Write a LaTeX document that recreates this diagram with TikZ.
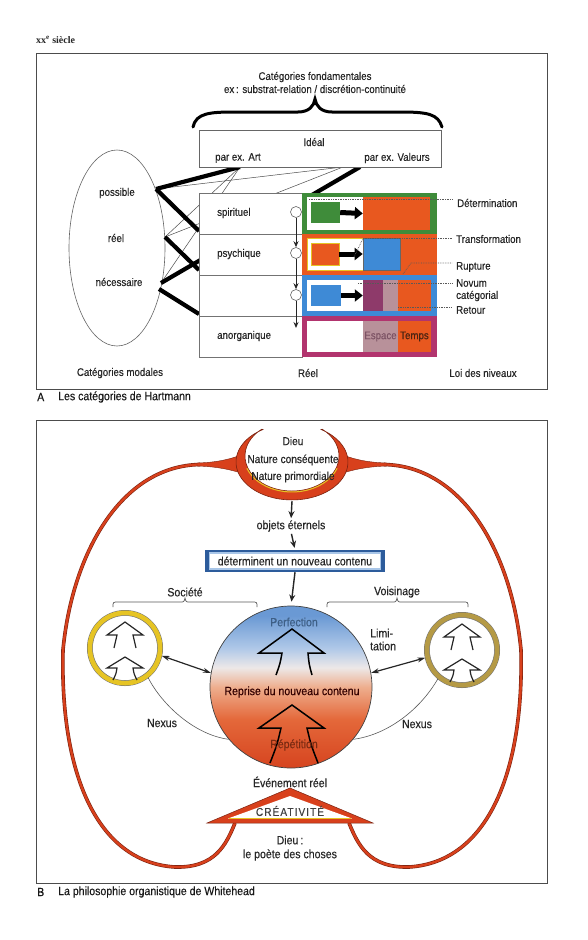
\documentclass[tikz,border=0pt]{standalone}
\usepackage{fontspec}
\setmainfont[FakeStretch=0.88,FakeBold=0.3]{Liberation Sans}
\newfontfamily\titlefont{Liberation Serif}
\newfontfamily\spacedfont[FakeStretch=0.88,FakeBold=0.3,LetterSpace=9]{Liberation Sans}
\usetikzlibrary{arrows.meta,shapes.geometric,calc}
\definecolor{cgreen}{HTML}{3F8C3A}
\definecolor{corange}{HTML}{E8581F}
\definecolor{cblue}{HTML}{3E8AD6}
\definecolor{cmag}{HTML}{B2346E}
\definecolor{cpurp}{HTML}{8E3A6A}
\definecolor{cmauve}{HTML}{B8919A}
\definecolor{cred}{HTML}{D8401C}
\definecolor{cdark}{HTML}{7A2210}
\definecolor{cyel}{HTML}{E6C424}
\definecolor{colive}{HTML}{B59A45}
\definecolor{dblue}{HTML}{2D5C9C}
\definecolor{skyb}{HTML}{A9C6E8}
\definecolor{sBot}{HTML}{D6441F}
\definecolor{sOr}{HTML}{E4683A}
\definecolor{sPeach}{HTML}{EEAE8E}
\definecolor{sWhite}{HTML}{EDE8E8}
\definecolor{sLb}{HTML}{AFC8E8}
\definecolor{sBl}{HTML}{6A99D4}
\definecolor{espcol}{HTML}{7D5365}
\definecolor{tempcol}{HTML}{4A2412}
\definecolor{perfcol}{HTML}{3E5F86}
\definecolor{repcol}{HTML}{7A2A12}
\pgfdeclareverticalshading{bigshade}{100bp}{color(0bp)=(sBot); color(25bp)=(sBot); color(40bp)=(sOr); color(50bp)=(sPeach); color(56bp)=(sWhite); color(62bp)=(sLb); color(72bp)=(sBl); color(100bp)=(sBl)}
\begin{document}
\begin{tikzpicture}[x=1pt,y=-1pt,
  lblA/.style={font=\fontsize{11}{13}\selectfont, text=black!85, inner sep=0pt},
  lblB/.style={font=\fontsize{12}{14}\selectfont, text=black!85, inner sep=0pt},
  capt/.style={font=\fontsize{12}{14}\selectfont, text=black!90, inner sep=0pt, anchor=west},
  frame/.style={draw=black!70, line width=0.9},
  thinln/.style={draw=black!70, line width=0.5},
  thickln/.style={draw=black, line width=4.2},
  rowbox/.style={draw=black!55, line width=0.6, fill=white, minimum width=103, minimum height=41, inner sep=0pt},
  cb/.style 2 args={minimum width=#1, minimum height=#2, inner sep=0pt},
  dotln/.style={draw=black!65, densely dotted, line width=0.7},
  smallc/.style={circle, draw=black!60, fill=white, minimum size=11, inner sep=0pt, line width=0.6},
  varrow/.style={-{Stealth[length=6,width=5]}, line width=1, draw=black!85},
  fatarrow/.style={-{Triangle[length=8,width=12]}, line width=5, draw=black},
  loopst/.style={draw=cred, line width=2.4, preaction={draw=cdark, line width=3.6}},
  arr/.style={-{Stealth[length=7,width=6]}, line width=1.4, draw=black!85},
  bigarr/.style={draw=black, line width=1.5, line join=miter},
  smallarr/.style={draw=black!85, line width=1.2, line join=miter},
  dbl/.style={{Stealth[length=8,width=5]}-{Stealth[length=8,width=5]}, line width=1.2, draw=black!85},
  nexus/.style={draw=black!65, line width=0.6},
  brk/.style={draw=black!65, line width=0.7},
  ring/.style={circle, minimum size=70, inner sep=0pt, fill=white, line width=5, preaction={draw=black!55, line width=6}}
]
\useasboundingbox (0,0) rectangle (587,940);
\fill[white] (0,0) rectangle (587,940);

% ================= PANEL A =================
\node[anchor=west, font=\titlefont\bfseries\fontsize{10}{12}\selectfont, text=black!85, inner sep=0pt] (title) at (36,40) {xx\textsuperscript{e} siècle};
\draw[frame] (36,53) rectangle (547,389);

\node[lblA] (fund1) at (315,77) {Catégories fondamentales};
\node[lblA] (fund2) at (315,89) {ex\,: substrat-relation / discrétion-continuité};
\draw[line width=3, line cap=round] (193,127) .. controls (196,113) and (210,112) .. (235,112) -- (298,112) .. controls (309,112) and (314,106) .. (315,99) .. controls (316,106) and (321,112) .. (332,112) -- (400,112) .. controls (428,112) and (438,114) .. (442,127);

% ellipse of modal categories
\node[ellipse, draw=black!60, line width=0.6, minimum width=96, minimum height=196, inner sep=0pt] (modal) at (117,248) {};
\node[lblA] (poss) at (117,193) {possible};
\node[lblA] (reel) at (116,238) {réel};
\node[lblA] (nec) at (119,282) {nécessaire};

\coordinate (eP) at (156,189);
\coordinate (eR) at (165,237);
\coordinate (eN) at (161,283);
\coordinate (eN2) at (159,289);
\coordinate (iArt) at (240,167);
\coordinate (iVal) at (343,167);
\coordinate (iVal2) at (360,167);
\coordinate (tA) at (199,231);
\coordinate (tB) at (199,270);
\coordinate (tD) at (199,314);

\draw[thinln] (eP) -- (iVal);
\draw[thinln] (eR) -- (iArt);
\draw[thinln] (eN) -- (iArt);
\draw[thinln] (eR) -- (iVal);
\draw[thickln] (eP) -- (iArt);
\draw[thickln] (eP) -- (tA);
\draw[thickln] (eR) -- (tB);
\draw[thickln] (eN2) -- (tD);
\draw[thickln] (eN) -- (iVal2);

% Ideal box
\node[draw=black!60, line width=0.6, fill=white, minimum width=242, minimum height=37, inner sep=0pt] (ideal) at (320,148.5) {};
\node[lblA] (idl) at (314,142) {Idéal};
\node[lblA] (art) at (238,158) {par ex. Art};
\node[lblA] (val) at (397,158) {par ex. Valeurs};

% Real rows
\node[rowbox] (spi) at (250.5,213.5) {};
\node[rowbox] (psy) at (250.5,254.5) {};
\node[rowbox] (ino) at (250.5,295.5) {};
\node[rowbox] (ano) at (250.5,336.5) {};
\node[lblA, anchor=west] (lspi) at (217,213) {spirituel};
\node[lblA, anchor=west] (lpsy) at (217,254) {psychique};
\node[lblA, anchor=west] (lano) at (217,336) {anorganique};

% coloured rows
\node[cb={135}{41}, fill=cgreen] (r1) at (369.5,213.5) {};
\node[cb={56}{33}, fill=white] (w1) at (335,213.5) {};
\node[cb={67}{33}, fill=corange] (o1) at (396.5,213.5) {};
\node[cb={29}{21}, fill=cgreen] (s1) at (325.5,212.5) {};
\draw[fatarrow] (s1.east) -- (o1.west);

\node[cb={135}{41}, fill=corange] (r2) at (369.5,254.5) {};
\node[cb={56}{32}, fill=white, draw=cyel, line width=0.5] (w2) at (335,254) {};
\node[cb={28}{22}, fill=corange, draw=cyel, line width=0.5] (s2) at (325,254) {};
\node[cb={37}{32}, fill=cblue, draw=black!60, line width=0.6] (b2) at (381.5,254) {};
\draw[fatarrow] (s2.east) -- (b2.west);

\node[cb={135}{41}, fill=cblue] (r3) at (369.5,295.5) {};
\node[cb={56}{31}, fill=white] (w3) at (335,295.5) {};
\node[cb={30}{21}, fill=cblue] (s3) at (326,295.5) {};
\node[cb={20}{31}, fill=cpurp] (p3) at (373,295.5) {};
\node[cb={15}{31}, fill=cmauve] (m3) at (390.5,295.5) {};
\node[cb={33}{31}, fill=corange] (o3) at (414.5,295.5) {};
\draw[fatarrow] (s3.east) -- (p3.west);

\node[cb={135}{41}, fill=cmag] (r4) at (369.5,336.5) {};
\node[cb={56}{31}, fill=white] (w4) at (335,336.5) {};
\node[cb={35}{31}, fill=cmauve, font=\fontsize{11}{13}\selectfont, text=espcol] (m4) at (380.5,336.5) {Espace};
\node[cb={33}{31}, fill=corange, font=\fontsize{11}{13}\selectfont, text=tempcol] (o4) at (414.5,336.5) {Temps};

% labels of the law of levels
\node[lblA, anchor=west] (lDet) at (457,203) {Détermination};
\node[lblA, anchor=west] (lTra) at (456,239) {Transformation};
\node[lblA, anchor=west] (lRup) at (456,267) {Rupture};
\node[lblA, anchor=west] (lNov) at (456,283) {Novum};
\node[lblA, anchor=west] (lCat) at (456,296) {catégorial};
\node[lblA, anchor=west] (lRet) at (456,310) {Retour};

\coordinate (dDet) at (309,199);
\coordinate (dTra) at (363,238.5);
\coordinate (dRup) at (403,274);
\coordinate (dRup2) at (411,263);
\coordinate (dNov) at (358,283);
\coordinate (dRet) at (398,307);
\draw[dotln] (dDet) -- ($(dDet -| lDet.west)+(-4,0)$);
\draw[dotln] (dTra) -- ($(dTra -| lTra.west)+(-4,0)$);
\draw[dotln] (354,257) -- (dTra);
\draw[dotln] (dRup) -- (dRup2) -- ($(dRup2 -| lRup.west)+(-4,0)$);
\draw[dotln] (dNov) -- ($(dNov -| lNov.west)+(-4,0)$);
\draw[dotln] (dRet) -- ($(dRet -| lRet.west)+(-4,0)$);

% circles and vertical arrows
\node[smallc] (c1) at (296,212) {};
\node[smallc] (c2) at (296,253) {};
\node[smallc] (c3) at (296,295) {};
\coordinate (cEnd) at (296,328);
\draw[varrow] (c1) -- (c2);
\draw[varrow] (c2) -- (c3);
\draw[varrow] (c3) -- (cEnd);

\node[lblA] (lmod) at (120,373) {Catégories modales};
\node[lblA] (lreel) at (308,373) {Réel};
\node[lblA] (lloi) at (483,373) {Loi des niveaux};

\node[capt] (capA) at (37,397) {A};
\node[capt] (capAt) at (58,397) {Les catégories de Hartmann};

% ================= PANEL B =================
\draw[frame] (36,420) rectangle (547,883);

% big loop
\draw[loopst] (200,464.5) .. controls (120,466) and (72,555) .. (63,650) .. controls (60,770) and (95,862) .. (175,867) .. controls (215,868) and (226,845) .. (235,823);
\draw[loopst] (384,464.5) .. controls (464,466) and (512,555) .. (521,650) .. controls (524,770) and (489,862) .. (409,867) .. controls (369,868) and (358,845) .. (349,823);

% wings
\fill[cred, draw=cdark, line width=0.4] (241,455) .. controls (225,461) and (212,462.5) .. (197,463) -- (197,466) .. controls (212,466.5) and (225,468) .. (241,473) -- cycle;
\fill[cred, draw=cdark, line width=0.4] (343,455) .. controls (359,461) and (372,462.5) .. (387,463) -- (387,466) .. controls (372,466.5) and (359,468) .. (343,473) -- cycle;

% bowl
\fill[cred, draw=cdark, line width=0.6] (262.9,429.5) arc[start angle=238.7, end angle=-58.7, x radius=56, y radius=38] -- (322.2,429.2) arc[start angle=-50, end angle=230, x radius=47, y radius=35] -- cycle;
\draw[cyel, line width=1] (337.1,468.3) arc[start angle=20, end angle=160, x radius=48, y radius=36];

\node[lblB, font=\fontsize{11.5}{13}\selectfont] (dieu) at (293,441) {Dieu};
\node[lblB, font=\fontsize{11.5}{13}\selectfont] (natc) at (293,460) {Nature conséquente};
\node[lblB, font=\fontsize{11.5}{13}\selectfont] (natp) at (293,477) {Nature primordiale};

\coordinate (bowlB) at (292,501);
\node[lblB] (obj) at (291,526) {objets éternels};

% blue box
\node[cb={180}{22}, fill=dblue] (detbox) at (295,561) {};
\fill[skyb] ([shift={(4,2)}]detbox.north west) rectangle ([shift={(-4,-2)}]detbox.south east);
\fill[white] ([shift={(5.5,4)}]detbox.north west) rectangle ([shift={(-5.5,-4)}]detbox.south east);
\node[lblB] (dett) at (295,561) {déterminent un nouveau contenu};

% big circle
\node[circle, minimum size=162, inner sep=0pt, draw=black!75, line width=0.7, shade, shading=bigshade] (big) at (291,687) {};

\draw[arr, shorten >=2] (bowlB) -- (obj.north);
\draw[arr, shorten <=2, shorten >=2] (obj.south) -- (detbox.north);
\draw[arr, shorten >=4] (detbox.south) -- (big.north);

\draw[bigarr] (276,675) .. controls (280,664) .. (282,653) -- (259,653) -- (292,629) -- (324,653) -- (308,653) .. controls (309,664) .. (312,675);
\draw[bigarr] (270,763) .. controls (277,745) .. (281,728) -- (259,728) -- (292,705) -- (324,728) -- (307,728) .. controls (311,745) .. (318,763);

\node[lblB, text=perfcol] (perf) at (294,622) {Perfection};
\node[lblB, text=black!80!red] (repr) at (292,692) {Reprise du nouveau contenu};
\node[lblB, text=repcol] (rep) at (294,745) {Répétition};

% brackets
\node[lblB] (soct) at (185,592) {Société};
\node[lblB] (voit) at (397,592) {Voisinage};
\draw[brk] (113,607) .. controls (113,602) .. (118,602) -- (180,602) .. controls (184,602) .. (185,598) .. controls (186,602) .. (190,602) -- (252,602) .. controls (257,602) .. (257,607);
\draw[brk] (327,607) .. controls (327,602) .. (332,602) -- (392,602) .. controls (396,602) .. (397,598) .. controls (398,602) .. (402,602) -- (463,602) .. controls (468,602) .. (468,607);

% small circles
\node[ring, draw=cyel] (soc) at (125,648) {};
\node[ring, draw=colive] (voi) at (462,650) {};
\draw[black!55, line width=0.5] (soc.center) circle[radius=32.5];
\draw[black!55, line width=0.5] (voi.center) circle[radius=32.5];
\foreach \cx/\cy in {125/648, 462/650} {
  \begin{scope}[shift={(\cx,\cy)}]
    \draw[smallarr] (-11,0) .. controls (-9,-6) .. (-8,-13) -- (-18,-13) -- (0,-26) -- (18,-13) -- (8,-13) .. controls (9,-6) .. (11,0);
    \draw[smallarr] (-12,32) .. controls (-9,26) .. (-8,20) -- (-18,20) -- (0,9) -- (18,20) -- (8,20) .. controls (9,26) .. (12,32);
  \end{scope}
}

\draw[dbl] (soc.-12) -- (big.170);
\draw[dbl] (big.10) -- (voi.192);

\node[lblB, anchor=west] (lim1) at (370,633) {Limi-};
\node[lblB, anchor=west] (lim2) at (370,646) {tation};

\draw[nexus] (soc.-52) .. controls (162,705) and (195,735) .. (big.220);
\draw[nexus] (voi.230) .. controls (420,710) and (387,735) .. (big.-40);
\node[lblB] (nex1) at (162,723) {Nexus};
\node[lblB] (nex2) at (417,724) {Nexus};

% creativity triangle
\node[lblB] (even) at (290,782) {Événement réel};
\fill[cred, draw=cdark, line width=0.5] (290,788) -- (373,823) -- (207,823) -- cycle;
\fill[white] (290,796) -- (352,818.5) -- (228,818.5) -- cycle;
\draw[cyel, line width=0.6] (229,818.3) -- (351,818.3);
\node[inner sep=0pt, font=\spacedfont\fontsize{11.5}{13}\selectfont, text=black!75] (crea) at (290,811) {CRÉATIVITÉ};
\node[lblB] (dieu2) at (290,840) {Dieu\,:};
\node[lblB] (poete) at (290,855) {le poète des choses};

\node[capt] (capB) at (37,892) {B};
\node[capt] (capBt) at (58,892) {La philosophie organistique de Whitehead};
\end{tikzpicture}
\end{document}
